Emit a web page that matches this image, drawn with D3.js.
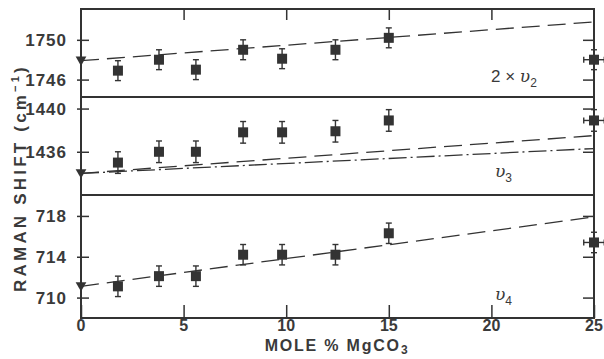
<!DOCTYPE html>
<html>
<head>
<meta charset="utf-8">
<script src="https://cdn.jsdelivr.net/npm/d3@7"></script>
<style>
  body { margin: 0; background: #fff; }
  svg { display: block; }
  text { font-family: "Liberation Sans", Arial, sans-serif; fill: #3a3a3a; }
</style>
</head>
<body>
<svg id="chart" width="604" height="359"></svg>
<script>
// mole % MgCO3 of each sample
const molePct = [1.8, 3.8, 5.6, 7.9, 9.8, 12.4, 15.0, 25.0];
const xErr = [0, 0, 0, 0, 0, 0, 0, 0.5];

// Raman shifts (cm-1) per band
const nu2x2 = [1746.9, 1748.0, 1747.0, 1749.0, 1748.1, 1749.0, 1750.2, 1748.0];
const nu3 = [1435.0, 1436.0, 1436.0, 1437.8, 1437.8, 1437.9, 1438.9, 1438.9];
const nu4 = [711.1, 712.1, 712.1, 714.2, 714.2, 714.2, 716.3, 715.4];
const yErr = 1.0;

// fitted lines: [x, y] at both ends
const fitNu2 = [[0, 1747.9], [25, 1751.8]];
const fitNu3a = [[0, 1434.0], [25, 1437.5]];
const fitNu3b = [[0, 1434.0], [25, 1436.3]];
const fitNu4 = [[0, 711.1], [25, 717.9]];

const xTicks = [0, 5, 10, 15, 20, 25];
const ticksNu2 = [1746, 1750];
const ticksNu3 = [1436, 1440];
const ticksNu4 = [710, 714, 718];

const ink = '#333';
const svg = d3.select('#chart');
const left = 81, right = 594;

const x = d3.scaleLinear().domain([0, 25]).range([left, right]);

const panels = [
  { vals: nu2x2, ticks: ticksNu2, domain: [1744.25, 1753.1], range: [97, 9],
    fits: [{ d: fitNu2, dash: '18,8' }], label: 'nu2', ly: 82 },
  { vals: nu3, ticks: ticksNu3, domain: [1432, 1441.07], range: [195, 97],
    fits: [{ d: fitNu3a, dash: '18,8' }, { d: fitNu3b, dash: '18,4,2,4' }], label: 'nu3', ly: 177 },
  { vals: nu4, ticks: ticksNu4, domain: [708, 720.05], range: [318, 195],
    fits: [{ d: fitNu4, dash: '18,8' }], label: 'nu4', ly: 300 }
];

panels.forEach(p => {
  const y = d3.scaleLinear().domain(p.domain).range(p.range);
  const g = svg.append('g');

  // left axis, ticks cross the spine
  const la = g.append('g').attr('transform', `translate(${left + 8},0)`)
    .call(d3.axisLeft(y).tickValues(p.ticks).tickSize(12).tickPadding(6).tickFormat(d3.format('d')));
  la.select('.domain').remove();
  la.selectAll('line').attr('stroke', ink).attr('stroke-width', 1.5);
  la.selectAll('text').attr('font-size', 17).attr('font-weight', 'bold')
    .attr('letter-spacing', 1).attr('fill', '#444').attr('dx', -4);

  // right axis, inward ticks
  const ra = g.append('g').attr('transform', `translate(${right},0)`)
    .call(d3.axisLeft(y).tickValues(p.ticks).tickSize(11).tickFormat(''));
  ra.select('.domain').remove();
  ra.selectAll('line').attr('stroke', ink).attr('stroke-width', 1.5);

  // fit lines
  const line = d3.line().x(d => x(d[0])).y(d => y(d[1]));
  p.fits.forEach(f => {
    g.append('path').datum(f.d).attr('d', line)
      .attr('fill', 'none').attr('stroke', ink).attr('stroke-width', 1.3)
      .attr('stroke-dasharray', f.dash);
  });
  // triangle at intercept
  g.append('path').attr('d', d3.symbol(d3.symbolTriangle, 50)())
    .attr('transform', `translate(${x(p.fits[0].d[0][0])},${y(p.fits[0].d[0][1]) - 1}) rotate(180)`)
    .attr('fill', ink);

  // error bars
  const pts = p.vals.map((v, i) => ({ x: molePct[i], y: v, xe: xErr[i] }));
  const eb = g.append('g').attr('stroke', ink).attr('stroke-width', 1.4);
  pts.forEach(d => {
    eb.append('line').attr('x1', x(d.x)).attr('x2', x(d.x))
      .attr('y1', y(d.y - yErr)).attr('y2', y(d.y + yErr));
    [d.y - yErr, d.y + yErr].forEach(v => eb.append('line')
      .attr('x1', x(d.x) - 3).attr('x2', x(d.x) + 3).attr('y1', y(v)).attr('y2', y(v)));
    if (d.xe > 0) {
      eb.append('line').attr('x1', x(d.x - d.xe)).attr('x2', x(d.x + d.xe))
        .attr('y1', y(d.y)).attr('y2', y(d.y));
      [d.x - d.xe, d.x + d.xe].forEach(v => eb.append('line')
        .attr('x1', x(v)).attr('x2', x(v)).attr('y1', y(d.y) - 3).attr('y2', y(d.y) + 3));
    }
  });
  g.selectAll('rect.pt').data(pts).enter().append('rect')
    .attr('x', d => x(d.x) - 5).attr('y', d => y(d.y) - 5)
    .attr('width', 10).attr('height', 10).attr('fill', ink);

  // band label
  const t = g.append('text').attr('x', p.label === 'nu2' ? 491 : 495).attr('y', p.ly)
    .attr('font-size', 17).attr('fill', '#444');
  if (p.label === 'nu2') t.append('tspan').text('2 × ');
  t.append('tspan').attr('font-family', '"DejaVu Serif", serif').attr('font-style', 'italic').text('υ');
  t.append('tspan').attr('font-size', 12).attr('dy', 5).text(p.label.slice(2));
});

// frame
const frame = svg.append('g').attr('stroke', ink).attr('stroke-width', 2).attr('fill', 'none');
frame.append('rect').attr('x', left).attr('y', 9).attr('width', right - left).attr('height', 309);
[97, 195].forEach(v => frame.append('line').attr('x1', left).attr('x2', right).attr('y1', v).attr('y2', v));

// bottom axis, inward ticks
const bx = svg.append('g').attr('transform', 'translate(0,318)')
  .call(d3.axisTop(x).tickValues(xTicks).tickSize(13).tickFormat(''));
bx.select('.domain').remove();
bx.selectAll('line').attr('stroke', ink).attr('stroke-width', 1.5);
svg.append('g').selectAll('text').data(xTicks).enter().append('text')
  .attr('x', d => x(d)).attr('y', 331).attr('text-anchor', 'middle')
  .attr('font-size', 16).attr('font-weight', 'bold').attr('fill', '#444').text(d => d);

// top axis, inward ticks
const tx = svg.append('g').attr('transform', 'translate(0,9)')
  .call(d3.axisBottom(x).tickValues(xTicks.slice(1, -1)).tickSize(11).tickFormat(''));
tx.select('.domain').remove();
tx.selectAll('line').attr('stroke', ink).attr('stroke-width', 1.5);

// axis titles
const xl = svg.append('text').attr('x', 337).attr('y', 351).attr('text-anchor', 'middle')
  .attr('font-size', 16).attr('font-weight', 'bold').attr('letter-spacing', 1.8).attr('fill', '#444');
xl.append('tspan').text('MOLE % MgCO');
xl.append('tspan').attr('font-size', 12).attr('dy', 3).text('3');

const yl = svg.append('text').attr('transform', 'translate(26,178) rotate(-90)')
  .attr('text-anchor', 'middle').attr('font-size', 17).attr('font-weight', 'bold')
  .attr('letter-spacing', 3.2).attr('fill', '#444');
yl.append('tspan').text('RAMAN SHIFT (cm');
yl.append('tspan').attr('font-size', 11).attr('dy', -7).text('−1');
yl.append('tspan').attr('dy', 7).text(')');
</script>
</body>
</html>
